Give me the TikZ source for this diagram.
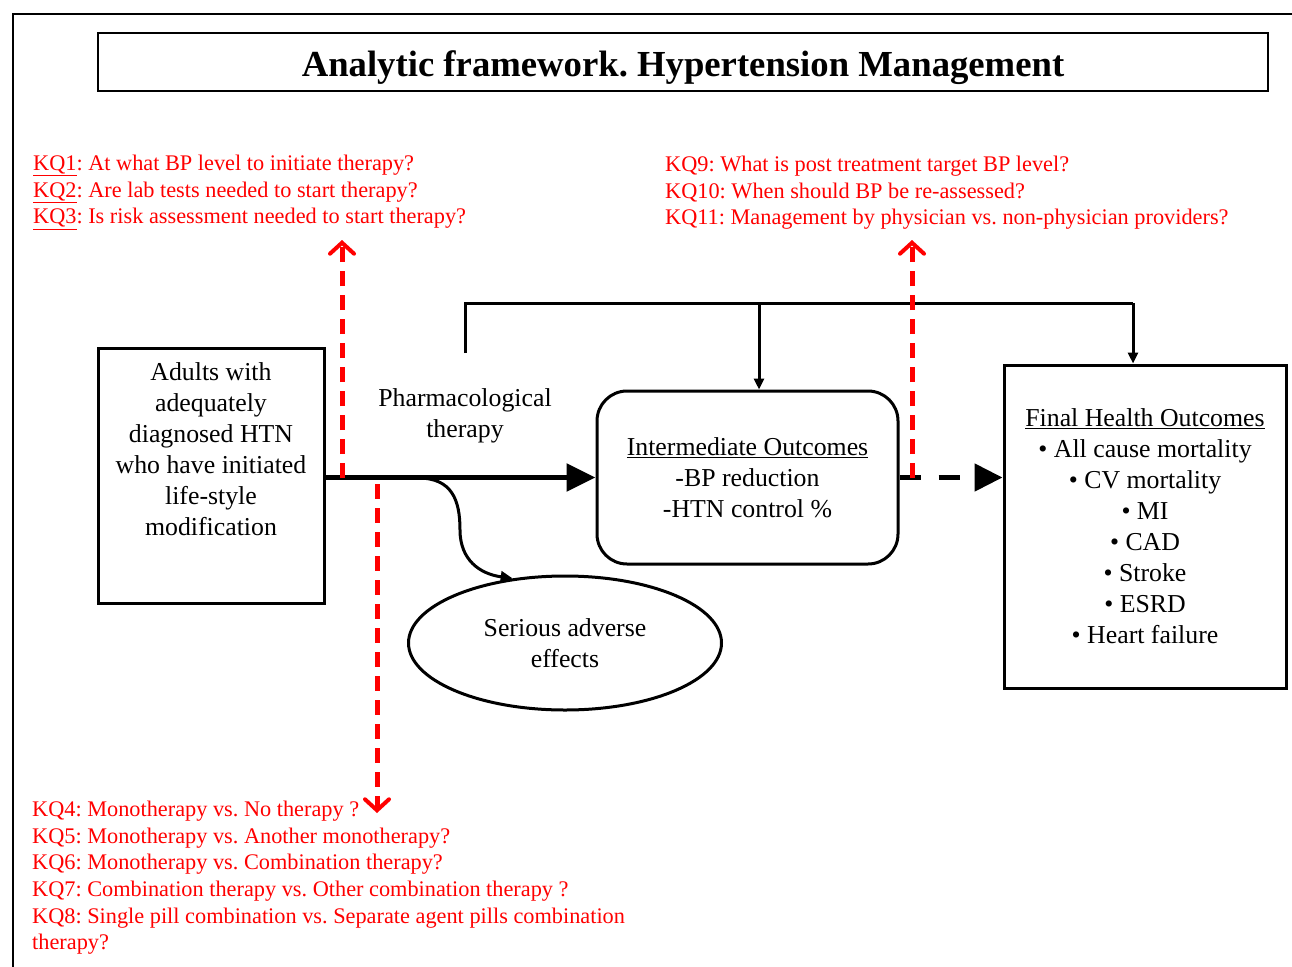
\documentclass[tikz,border=0pt]{standalone}
\usepackage{fontspec}
\setmainfont{Liberation Serif}
\usetikzlibrary{arrows.meta,shapes.geometric}
\definecolor{kqred}{RGB}{255,0,0}
\frenchspacing

\begin{document}
\begin{tikzpicture}[x=1pt,y=-1pt,
		boxtext/.style={font=\fontsize{25.8}{31}\selectfont,align=center},
		outbox/.style={draw,line width=3pt},
		kqtext/.style={color=kqred,font=\fontsize{22.3}{26.6}\selectfont,align=left,anchor=north west,inner sep=0pt},
		kqarrow/.style={color=kqred,line width=5pt,dash pattern=on 15pt off 9pt,
			-{Straight Barb[length=11pt,width=24pt,line width=4pt,line cap=round]}},
		link/.style={line width=3pt,-{Triangle[length=11pt,width=10pt]}}]
	\useasboundingbox (0,0) rectangle (1292,966);
	% frame and title
	\draw[line width=2pt] (13,1000) -- (13,14) -- (1320,14);
	\node[draw,line width=1.5pt,minimum width=1170pt,minimum height=58pt,text height=30pt,text depth=2pt,
		font=\fontsize{36.7}{40}\selectfont\bfseries] (title) at (683,62)
		{Analytic framework. Hypertension Management};
	% boxes
	\node[outbox,minimum width=226pt,minimum height=255pt] (adults) at (211,475.5) {};
	\node[boxtext] (adultstxt) at (211,449)
		{Adults with\\adequately\\diagnosed HTN\\who have initiated\\life-style\\modification};
	\node[boxtext] (pharm) at (465,416) {Pharmacological\\therapy};
	\node[outbox,boxtext,rounded corners=30pt,minimum width=301pt,minimum height=173pt] (inter) at (747.5,477.5)
		{\underline{Intermediate Outcomes}\\-BP reduction\\-HTN control \%};
	\node[outbox,boxtext,minimum width=282pt,minimum height=323pt] (final) at (1145,526.5)
		{\underline{Final Health Outcomes}\\• All cause mortality\\• CV mortality\\• MI\\• CAD\\• Stroke\\• ESRD\\• Heart failure};
	\node[outbox,boxtext,ellipse,minimum width=313pt,minimum height=134pt] (ser) at (565,643)
		{Serious adverse\\effects};
	% main links
	\draw[line width=5.5pt,-{Triangle[length=29pt,width=27pt]}] (adults.east |- inter.west) -- (inter.west);
	\draw[line width=5pt,dash pattern=on 21pt off 18pt,-{Triangle[length=28pt,width=27pt]}] (inter.east) -- (inter.east -| final.west);
	\coordinate (branch) at (418,478);
	\draw[line width=3pt,-{Triangle[length=12pt,width=11pt]}] (branch)
		.. controls (452,478) and (460,500) .. (460,530)
		.. controls (460,560) and (480,574) .. (ser.129);
	% bracket
	\coordinate (brkstart) at (465,353);
	\coordinate (brkmid) at (759,303);
	\coordinate (brkend) at (1133,303);
	\draw[line width=3pt] (brkstart) -- (brkstart |- brkend) -- (brkend);
	\draw[link] (brkmid) -- (brkmid |- inter.north);
	\draw[link] (brkend) -- (brkend |- final.north);
	% key questions
	\node[kqtext] (kq13) at (33,155)
		{\underline{KQ1}: At what BP level to initiate therapy?\\
		 \underline{KQ2}: Are lab tests needed to start therapy?\\
		 \underline{KQ3}: Is risk assessment needed to start therapy?};
	\node[kqtext] (kq911) at (665,156)
		{KQ9: What is post treatment target BP level?\\
		 KQ10: When should BP be re-assessed?\\
		 KQ11: Management by physician vs. non-physician providers?};
	\node[kqtext] (kq48) at (32,801)
		{KQ4: Monotherapy vs. No therapy ?\\
		 KQ5: Monotherapy vs. Another monotherapy?\\
		 KQ6: Monotherapy vs. Combination therapy?\\
		 KQ7: Combination therapy vs. Other combination therapy ?\\
		 KQ8: Single pill combination vs. Separate agent pills combination\\
		 therapy?};
	\coordinate (kq1from) at (342,478);
	\coordinate (kq1to) at (342,240);
	\coordinate (kq4from) at (377,484);
	\coordinate (kq4to) at (377,813);
	\coordinate (kq9from) at (912,478);
	\coordinate (kq9to) at (912,240);
	\draw[kqarrow] (kq1from) -- (kq1to);
	\draw[kqarrow] (kq4from) -- (kq4to);
	\draw[kqarrow] (kq9from) -- (kq9to);
\end{tikzpicture}
\end{document}
